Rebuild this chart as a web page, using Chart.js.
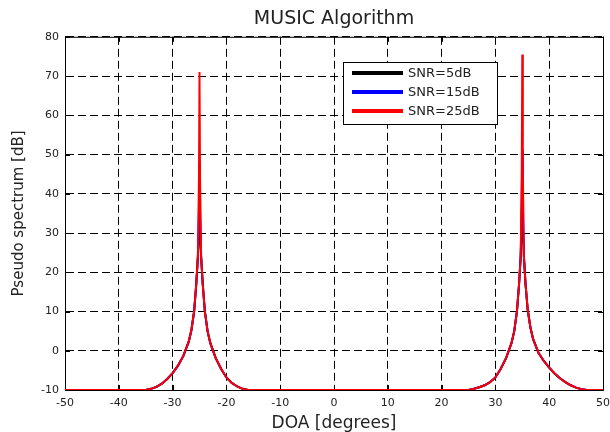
<!DOCTYPE html>
<html>
<head>
<meta charset="utf-8">
<script src="https://cdn.jsdelivr.net/npm/chart.js@4.4.1/dist/chart.umd.min.js"></script>
<style>
  html, body { margin: 0; padding: 0; background: #fff; }
  #box { width: 610px; height: 432px; }
</style>
</head>
<body>
<div id="box"><canvas id="grafico"></canvas></div>
<script>
"use strict"

// dati
const doa = [-50, -45, -40, -35, -34, -33, -32, -31, -30, -29, -28, -27, -26.5, -26, -25.6, -25.3, -25.1, -25,
    -24.9, -24.7, -24.4, -24, -23.5, -23, -22, -21, -20, -19, -18, -17, -16, -15,
    0, 10, 20,
    25, 26, 27, 28, 29, 30, 31, 32, 33, 33.5, 34, 34.4, 34.7, 34.9, 35,
    35.1, 35.3, 35.6, 36, 36.5, 37, 38, 39, 40, 41, 42, 43, 44, 45, 46, 47, 48, 49, 50];

const snr5 = [-10, -10, -10, -10, -9.7, -9.2, -8.4, -7.2, -5.7, -3.8, -1.3, 2.3, 5.3, 10, 17, 24, 30, 36,
    30, 24, 17, 10, 5, 2, -1.8, -4.6, -6.8, -8.2, -9.1, -9.7, -10, -10,
    -10, -10, -10,
    -10, -9.7, -9.3, -8.8, -8.0, -6.8, -4.6, -1.8, 2, 5, 10, 17, 24, 32, 41,
    32, 24, 17, 10.5, 6, 3, -0.5, -2.6, -4.3, -5.8, -7.0, -8.0, -8.8, -9.4, -9.8, -10, -10, -10, -10];

const snr15 = [-10, -10, -10, -10, -9.7, -9.2, -8.4, -7.2, -5.7, -3.8, -1.3, 2.3, 5.3, 10, 17, 24, 36, 48,
    36, 24, 17, 10, 5, 2, -1.8, -4.6, -6.8, -8.2, -9.1, -9.7, -10, -10,
    -10, -10, -10,
    -10, -9.7, -9.3, -8.8, -8.0, -6.8, -4.6, -1.8, 2, 5, 10, 17, 24, 38, 51,
    38, 24, 17, 10.5, 6, 3, -0.5, -2.6, -4.3, -5.8, -7.0, -8.0, -8.8, -9.4, -9.8, -10, -10, -10, -10];

const snr25 = [-10, -10, -10, -10, -9.7, -9.2, -8.4, -7.2, -5.7, -3.8, -1.3, 2.3, 5.3, 10, 17, 24, 44, 71,
    44, 24, 17, 10, 5, 2, -1.8, -4.6, -6.8, -8.2, -9.1, -9.7, -10, -10,
    -10, -10, -10,
    -10, -9.7, -9.3, -8.8, -8.0, -6.8, -4.6, -1.8, 2, 5, 10, 17, 24, 46, 75.5,
    46, 24, 17, 10.5, 6, 3, -0.5, -2.6, -4.3, -5.8, -7.0, -8.0, -8.8, -9.4, -9.8, -10, -10, -10, -10];

const etichette = ["SNR=5dB", "SNR=15dB", "SNR=25dB"];
const colori = ["#000000", "#0000ff", "#ff0000"];

const font = "'DejaVu Sans', sans-serif";

function punti(valori) {
    return doa.map(function (x, i) { return { x: x, y: valori[i] }; });
}

// cornice, tacche interne e legenda
const cornice = {
    id: "cornice",
    beforeDatasetsDraw(chart) {
        const ctx = chart.ctx;
        const a = chart.chartArea;
        const sx = chart.scales.x;
        const sy = chart.scales.y;
        ctx.save();
        ctx.strokeStyle = "#000";
        ctx.lineWidth = 1;
        ctx.setLineDash([]);
        ctx.strokeRect(a.left + 0.5, a.top + 0.5, a.right - a.left, a.bottom - a.top);
        ctx.beginPath();
        sx.ticks.forEach(function (t) {
            const px = Math.round(sx.getPixelForValue(t.value)) + 0.5;
            ctx.moveTo(px, a.bottom); ctx.lineTo(px, a.bottom - 5);
            ctx.moveTo(px, a.top); ctx.lineTo(px, a.top + 5);
        });
        sy.ticks.forEach(function (t) {
            const py = Math.round(sy.getPixelForValue(t.value)) + 0.5;
            ctx.moveTo(a.left, py); ctx.lineTo(a.left + 5, py);
            ctx.moveTo(a.right, py); ctx.lineTo(a.right - 5, py);
        });
        ctx.stroke();
        ctx.restore();
    },
    afterDatasetsDraw(chart) {
        const ctx = chart.ctx;
        ctx.save();
        // legenda
        const lx = 343.5, ly = 62.5, lw = 154, lh = 62;
        ctx.fillStyle = "#fff";
        ctx.fillRect(lx, ly, lw, lh);
        ctx.strokeStyle = "#000";
        ctx.lineWidth = 1;
        ctx.strokeRect(lx, ly, lw, lh);
        ctx.font = "13px " + font;
        ctx.textBaseline = "middle";
        chart.data.datasets.forEach(function (ds, i) {
            const y = 73 + i * 19;
            ctx.strokeStyle = ds.borderColor;
            ctx.lineWidth = 4;
            ctx.beginPath();
            ctx.moveTo(352, y); ctx.lineTo(403, y);
            ctx.stroke();
            ctx.fillStyle = "#222";
            ctx.fillText(ds.label, 408, y + 1);
        });
        ctx.restore();
    }
};

new Chart(document.getElementById("grafico"), {
    type: "line",
    data: {
        datasets: [
            { label: etichette[0], data: punti(snr5), borderColor: colori[0], borderWidth: 2, order: 3 },
            { label: etichette[1], data: punti(snr15), borderColor: colori[1], borderWidth: 2, order: 2 },
            { label: etichette[2], data: punti(snr25), borderColor: colori[2], borderWidth: 2, order: 1 }
        ]
    },
    options: {
        responsive: true,
        maintainAspectRatio: false,
        animation: false,
        elements: { point: { radius: 0 }, line: { tension: 0 } },
        layout: { padding: { left: 0, right: 7, top: 0, bottom: 0 } },
        plugins: {
            legend: { display: false },
            tooltip: { enabled: false },
            title: {
                display: true,
                fullSize: false,
                text: "MUSIC Algorithm",
                color: "#222",
                font: { family: font, size: 19, weight: "normal" },
                padding: { top: 8, bottom: 6 }
            }
        },
        scales: {
            x: {
                type: "linear",
                min: -50,
                max: 50,
                afterFit: function (s) { s.height = 42; s.paddingLeft = 0; s.paddingRight = 0; },
                ticks: { stepSize: 10, color: "#222", font: { family: font, size: 11 }, padding: 7, maxRotation: 0 },
                grid: { color: "#000", lineWidth: 1, drawTicks: false },
                border: { color: "#000", dash: [8, 4] },
                title: { display: true, text: "DOA [degrees]", color: "#222", font: { family: font, size: 17, lineHeight: 1 }, padding: 0 }
            },
            y: {
                min: -10,
                max: 80,
                afterFit: function (s) { s.width = 65; s.paddingTop = 0; s.paddingBottom = 0; },
                ticks: { stepSize: 10, color: "#222", font: { family: font, size: 11 }, padding: 6 },
                grid: { color: "#000", lineWidth: 1, drawTicks: false },
                border: { color: "#000", dash: [8, 4] },
                title: { display: true, text: "Pseudo spectrum [dB]", color: "#222", font: { family: font, size: 15 }, padding: { top: 10, bottom: 0 } }
            }
        }
    },
    plugins: [cornice]
});
</script>
</body>
</html>
